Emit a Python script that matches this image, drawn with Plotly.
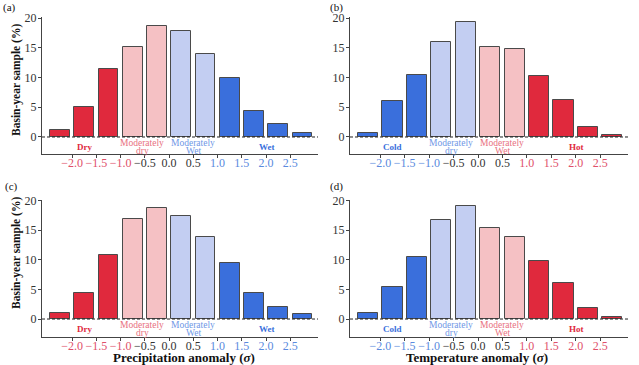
import plotly.graph_objects as go

# ---------------- data ----------------
bin_centers = [-2.25, -1.75, -1.25, -0.75, -0.25, 0.25, 0.75, 1.25, 1.75, 2.25, 2.75]
precip_a = [1.1, 5.1, 11.5, 15.1, 18.6, 17.9, 14.0, 9.95, 4.4, 2.15, 0.7]
temp_b = [0.75, 6.05, 10.4, 15.9, 19.25, 15.05, 14.75, 10.2, 6.15, 1.65, 0.3]
precip_c = [1.1, 4.4, 10.85, 16.85, 18.7, 17.45, 13.8, 9.5, 4.35, 1.95, 0.9]
temp_d = [0.95, 5.4, 10.5, 16.7, 19.05, 15.4, 13.95, 9.85, 6.1, 1.85, 0.3]
tick_vals = [-2.0, -1.5, -1.0, -0.5, 0.0, 0.5, 1.0, 1.5, 2.0, 2.5]
tick_labels = ["\u22122.0", "\u22121.5", "\u22121.0", "\u22120.5", "0.0", "0.5", "1.0", "1.5", "2.0", "2.5"]
y_ticks = [0, 5, 10, 15, 20]
precip_classes = [["Dry"], ["Moderately", "dry"], ["Moderately", "Wet"], ["Wet"]]
temp_classes = [["Cold"], ["Moderately", "dry"], ["Moderately", "Wet"], ["Hot"]]
class_x = [-1.75, -0.55, 0.5, 2.02]

# ---------------- style ----------------
RED = "#e0293d"
PINK = "#f5c1c4"
LBLUE = "#c3cef2"
BLUE = "#3a6fdc"
TICK_RED = "#e0506a"
TICK_BLUE = "#5a8ade"
DARK = "#333333"
FONT = "Liberation Serif"

precip_colors = [RED, RED, RED, PINK, PINK, LBLUE, LBLUE, BLUE, BLUE, BLUE, BLUE]
temp_colors = [BLUE, BLUE, BLUE, LBLUE, LBLUE, PINK, PINK, RED, RED, RED, RED]

W, H = 639, 365

def px_x(a, b):
    return [a / W, b / W]

def px_y(top, bottom):
    return [1 - bottom / H, 1 - top / H]

panels = [
    dict(vals=precip_a, colors=precip_colors, xd=px_x(42, 318), yd=px_y(17, 154), yr=[-2.86, 20.17],
         low=TICK_RED, high=TICK_BLUE, classes=precip_classes,
         ccol=[RED, "#e8707e", "#6f97e6", BLUE]),
    dict(vals=temp_b, colors=temp_colors, xd=px_x(350, 628), yd=px_y(17, 154), yr=[-2.86, 20.17],
         low=TICK_BLUE, high=TICK_RED, classes=temp_classes,
         ccol=[BLUE, "#6f97e6", "#e8707e", RED]),
    dict(vals=precip_c, colors=precip_colors, xd=px_x(42, 318), yd=px_y(200, 337), yr=[-3.04, 20.12],
         low=TICK_RED, high=TICK_BLUE, classes=precip_classes,
         ccol=[RED, "#e8707e", "#6f97e6", BLUE]),
    dict(vals=temp_d, colors=temp_colors, xd=px_x(350, 628), yd=px_y(200, 337), yr=[-3.04, 20.12],
         low=TICK_BLUE, high=TICK_RED, classes=temp_classes,
         ccol=[BLUE, "#6f97e6", "#e8707e", RED]),
]

fig = go.Figure()
layout = {}
shapes = []
annotations = []

for i, p in enumerate(panels, start=1):
    xa = "x" if i == 1 else f"x{i}"
    ya = "y" if i == 1 else f"y{i}"
    fig.add_trace(go.Bar(
        x=bin_centers, y=p["vals"], width=0.41,
        marker=dict(color=p["colors"], line=dict(color="#4a4a4a", width=1)),
        xaxis=xa, yaxis=ya, showlegend=False, hoverinfo="skip",
    ))
    ttext = []
    for v, lab in zip(tick_vals, tick_labels):
        if v <= -1.0:
            c = p["low"]
        elif v >= 1.0:
            c = p["high"]
        else:
            c = DARK
        ttext.append(f'<span style="color:{c}">{lab}</span>')
    layout["xaxis" if i == 1 else f"xaxis{i}"] = dict(
        domain=p["xd"], anchor=ya, range=[-2.62, 3.07], automargin=False,
        tickmode="array", tickvals=tick_vals, ticktext=ttext,
        showline=True, linecolor="#444", linewidth=1,
        ticks="outside", ticklen=3, tickcolor="#444", ticklabelstandoff=-5,
        tickfont=dict(family=FONT, size=12, color=DARK),
        showgrid=False, zeroline=False, fixedrange=True,
    )
    layout["yaxis" if i == 1 else f"yaxis{i}"] = dict(
        domain=p["yd"], anchor=xa, range=p["yr"], automargin=False,
        tickmode="array", tickvals=y_ticks,
        showline=True, linecolor="#444", linewidth=1,
        ticks="outside", ticklen=3, tickcolor="#444", ticklabelstandoff=-1,
        tickfont=dict(family=FONT, size=12, color=DARK),
        showgrid=False, zeroline=False, fixedrange=True,
    )
    shapes.append(dict(type="line", xref=f"{xa} domain", yref=ya, x0=0, x1=1, y0=0, y1=0,
                       line=dict(color="#222", width=1, dash="3px,2px")))
    for cx, lines, cc in zip(class_x, p["classes"], p["ccol"]):
        if len(lines) == 1:
            annotations.append(dict(x=cx, y=-1.69, xref=xa, yref=ya, text=f"<b>{lines[0]}</b>",
                                    showarrow=False, font=dict(family=FONT, size=9, color=cc),
                                    xanchor="center", yanchor="middle"))
        else:
            for ln, yy in zip(lines, [-0.93, -2.3]):
                annotations.append(dict(x=cx, y=yy, xref=xa, yref=ya, text=ln,
                                        showarrow=False, font=dict(family=FONT, size=9.5, color=cc),
                                        xanchor="center", yanchor="middle"))

# y titles
for yc in [1 - 80 / H, 1 - 253 / H]:
    annotations.append(dict(x=16 / W, y=yc, xref="paper", yref="paper", text="<b>Basin-year sample (%)</b>",
                            textangle=-90, showarrow=False, font=dict(family=FONT, size=11.5, color="#111"),
                            xanchor="center", yanchor="middle"))
# x titles
annotations.append(dict(x=184 / W, y=1 - 357 / H, xref="paper", yref="paper",
                        text="<b>Precipitation anomaly (<i>\u03c3</i>)</b>", showarrow=False,
                        font=dict(family=FONT, size=13, color="#111"), xanchor="center", yanchor="middle"))
annotations.append(dict(x=477 / W, y=1 - 357 / H, xref="paper", yref="paper",
                        text="<b>Temperature anomaly (<i>\u03c3</i>)</b>", showarrow=False,
                        font=dict(family=FONT, size=13, color="#111"), xanchor="center", yanchor="middle"))
# panel labels
for lab, x, y in [("(a)", 9, 7), ("(b)", 337, 7), ("(c)", 11, 186), ("(d)", 336, 186)]:
    annotations.append(dict(x=x / W, y=1 - y / H, xref="paper", yref="paper", text=lab, showarrow=False,
                            font=dict(family=FONT, size=11, color="#111"), xanchor="center", yanchor="middle"))

fig.update_layout(
    width=W, height=H, margin=dict(l=0, r=0, t=0, b=0),
    paper_bgcolor="white", plot_bgcolor="white",
    shapes=shapes, annotations=annotations, bargap=0, **layout,
)

fig.write_html("out.html", config={"displayModeBar": False},
               post_script="document.body.style.margin='0px';document.body.style.padding='0px';")
